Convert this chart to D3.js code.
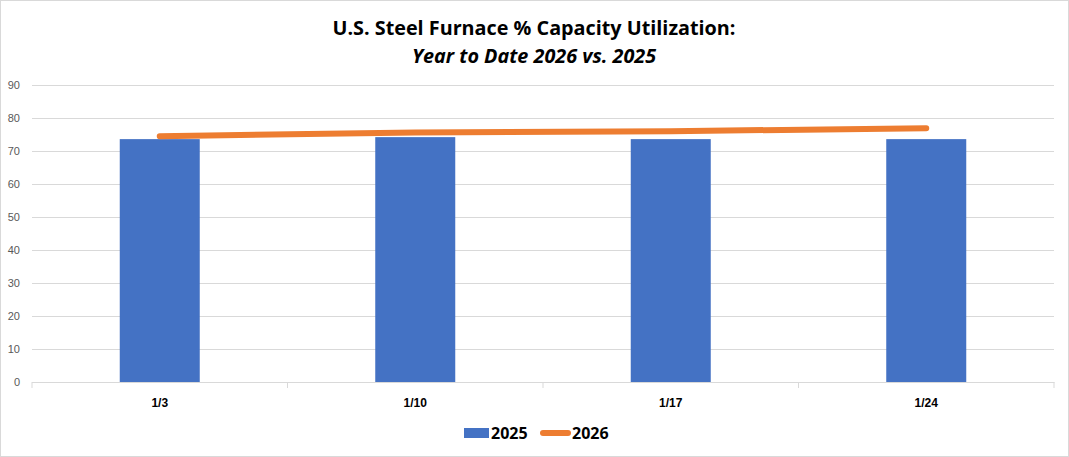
<!DOCTYPE html>
<html><head><meta charset="utf-8">
<script src="https://cdn.jsdelivr.net/npm/d3@7"></script>
<style>
html,body{margin:0;padding:0;background:#fff;}
svg{display:block;font-family:"Open Sans","Liberation Sans",sans-serif;}
</style></head>
<body>
<svg id="chart" width="1069" height="457"></svg>
<script>
const categories = ["1/3","1/10","1/17","1/24"];
const values2025 = [73.6, 74.2, 73.6, 73.6];
const values2026 = [74.5, 75.6, 76.0, 76.9];
const yTicks = [0,10,20,30,40,50,60,70,80,90];
const titleLine1 = "U.S. Steel Furnace % Capacity Utilization:";
const titleLine2 = "Year to Date 2026 vs. 2025";

const svg = d3.select("#chart");
const W = 1069, H = 457;
const m = {left:32, right:1054, top:85, bottom:382};

svg.append("rect").attr("x",0.5).attr("y",0.5).attr("width",W-1).attr("height",H-1)
  .attr("fill","#fff").attr("stroke","#d9d9d9");

const x = d3.scaleBand().domain(categories).range([m.left,m.right]).paddingInner(0).paddingOuter(0);
const y = d3.scaleLinear().domain([0,90]).range([m.bottom,m.top]);

// gridlines
const gy = svg.append("g").attr("transform",`translate(${m.left},0)`)
  .call(d3.axisLeft(y).tickValues(yTicks).tickSize(-(m.right-m.left)).tickFormat(""));
gy.select(".domain").remove();
gy.selectAll("line").attr("stroke","#d9d9d9").attr("stroke-width",1);

// y labels
const yl = svg.append("g").attr("transform",`translate(20,0)`)
  .call(d3.axisLeft(y).tickValues(yTicks).tickSize(0).tickPadding(0));
yl.select(".domain").remove();
yl.selectAll("text").attr("fill","#595959").style("font-size","11px");

// bars
const bw = 80;
svg.append("g").selectAll("rect").data(categories).join("rect")
  .attr("x",d=>x(d)+x.bandwidth()/2-bw/2)
  .attr("width",bw)
  .attr("y",(d,i)=>y(values2025[i]))
  .attr("height",(d,i)=>y(0)-y(values2025[i]))
  .attr("fill","#4472C4");

// x axis
const xa = svg.append("g").attr("transform",`translate(0,${m.bottom})`)
  .call(d3.axisBottom(x).tickSize(0).tickPadding(16));
xa.select(".domain").attr("stroke","#d9d9d9");
xa.selectAll("text").attr("fill","#000").style("font-size","12px").style("font-weight","bold");
const bounds = categories.map(c=>x(c)).concat([m.right]);
svg.append("g").selectAll("line").data(bounds).join("line")
  .attr("x1",d=>d).attr("x2",d=>d).attr("y1",m.bottom).attr("y2",m.bottom+6)
  .attr("stroke","#d9d9d9");

// line
const line = d3.line().x((d,i)=>x(categories[i])+x.bandwidth()/2).y(d=>y(d));
svg.append("path").datum(values2026).attr("d",line)
  .attr("fill","none").attr("stroke","#ED7D31").attr("stroke-width",6)
  .attr("stroke-linecap","round").attr("stroke-linejoin","round");

// title
svg.append("text").attr("x",534).attr("y",35).attr("text-anchor","middle")
  .style("font-size","19.8px").style("font-weight","bold").attr("fill","#000").text(titleLine1);
svg.append("text").attr("x",534).attr("y",63).attr("text-anchor","middle")
  .style("font-size","19.8px").style("font-weight","bold").style("font-style","italic").attr("fill","#000").text(titleLine2);

// legend
const lg = svg.append("g");
lg.append("rect").attr("x",464).attr("y",428).attr("width",25).attr("height",10).attr("fill","#4472C4");
lg.append("text").attr("x",491).attr("y",439).style("font-size","16px").style("font-weight","bold").text("2025");
lg.append("line").attr("x1",543).attr("x2",568).attr("y1",433).attr("y2",433)
  .attr("stroke","#ED7D31").attr("stroke-width",6).attr("stroke-linecap","round");
lg.append("text").attr("x",572).attr("y",439).style("font-size","16px").style("font-weight","bold").text("2026");
</script>
</body></html>
